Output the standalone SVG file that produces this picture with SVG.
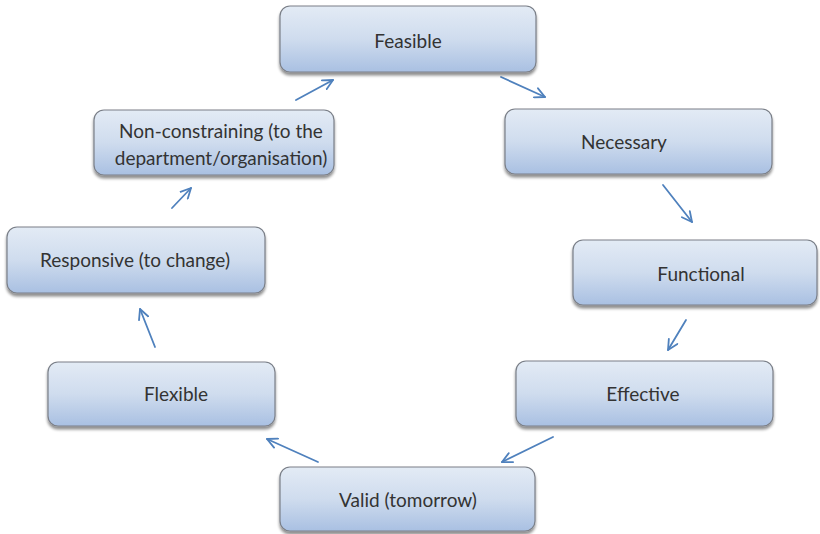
<svg xmlns="http://www.w3.org/2000/svg" width="820" height="534" viewBox="0 0 820 534">
  <defs>
    <linearGradient id="boxFill" x1="0" y1="0" x2="0" y2="1">
      <stop offset="0" stop-color="#e3ebf5"/>
      <stop offset="0.5" stop-color="#cfdcee"/>
      <stop offset="1" stop-color="#a9c0e2"/>
    </linearGradient>
    <filter id="shadow" x="-10%" y="-20%" width="120%" height="150%">
      <feGaussianBlur in="SourceAlpha" stdDeviation="1.6"/>
      <feOffset dx="0" dy="2.5" result="b"/>
      <feComponentTransfer><feFuncA type="linear" slope="0.45"/></feComponentTransfer>
      <feMerge><feMergeNode/><feMergeNode in="SourceGraphic"/></feMerge>
    </filter>
    <marker id="arrow" viewBox="0 0 12 12" refX="11" refY="6" markerWidth="12" markerHeight="12" markerUnits="userSpaceOnUse" orient="auto">
      <path d="M1,1 L11,6 L1,11" fill="none" stroke="#4f81bd" stroke-width="1.8" stroke-linecap="round" stroke-linejoin="round"/>
    </marker>
  </defs>
  <style>
    .box { fill: url(#boxFill); stroke: #7a7f88; stroke-width: 1.2; filter: url(#shadow); }
    .label { font-family: Lato, "Open Sans", "Liberation Sans", sans-serif; font-size: 19px; fill: #333333; text-anchor: middle; dominant-baseline: central; }
    .conn { stroke: #4f81bd; stroke-width: 1.8; fill: none; marker-end: url(#arrow); stroke-linecap: round; }
  </style>
  <rect width="820" height="534" fill="#ffffff"/>

  <g id="connectors">
    <line class="conn" x1="296" y1="100" x2="333" y2="80"/>
    <line class="conn" x1="501" y1="77" x2="545" y2="97"/>
    <line class="conn" x1="663" y1="185" x2="692" y2="222"/>
    <line class="conn" x1="686" y1="320" x2="668" y2="350"/>
    <line class="conn" x1="553" y1="437" x2="502" y2="462"/>
    <line class="conn" x1="318" y1="462" x2="267" y2="439"/>
    <line class="conn" x1="155" y1="347" x2="140" y2="309"/>
    <line class="conn" x1="172" y1="208" x2="191" y2="188"/>
  </g>

  <g id="feasible">
    <rect class="box" x="280" y="6" width="256" height="66" rx="10"/>
    <text class="label" x="408" y="40">Feasible</text>
  </g>
  <g id="necessary">
    <rect class="box" x="505" y="109" width="267" height="65" rx="10"/>
    <text class="label" x="624" y="141">Necessary</text>
  </g>
  <g id="functional">
    <rect class="box" x="573" y="240" width="244" height="65" rx="10"/>
    <text class="label" x="701" y="273">Functional</text>
  </g>
  <g id="effective">
    <rect class="box" x="516" y="361" width="257" height="65" rx="10"/>
    <text class="label" x="643" y="393">Effective</text>
  </g>
  <g id="valid">
    <rect class="box" x="280" y="467" width="255" height="64" rx="10"/>
    <text class="label" x="408" y="499">Valid (tomorrow)</text>
  </g>
  <g id="flexible">
    <rect class="box" x="48" y="362" width="227" height="64" rx="10"/>
    <text class="label" x="176" y="393">Flexible</text>
  </g>
  <g id="responsive">
    <rect class="box" x="7" y="227" width="258" height="66" rx="10"/>
    <text class="label" x="135" y="259">Responsive (to change)</text>
  </g>
  <g id="non-constraining">
    <rect class="box" x="94" y="110" width="240" height="65" rx="10"/>
    <text class="label" x="221" y="130">Non-constraining (to the</text>
    <text class="label" x="221" y="157">department/organisation)</text>
  </g>
</svg>
